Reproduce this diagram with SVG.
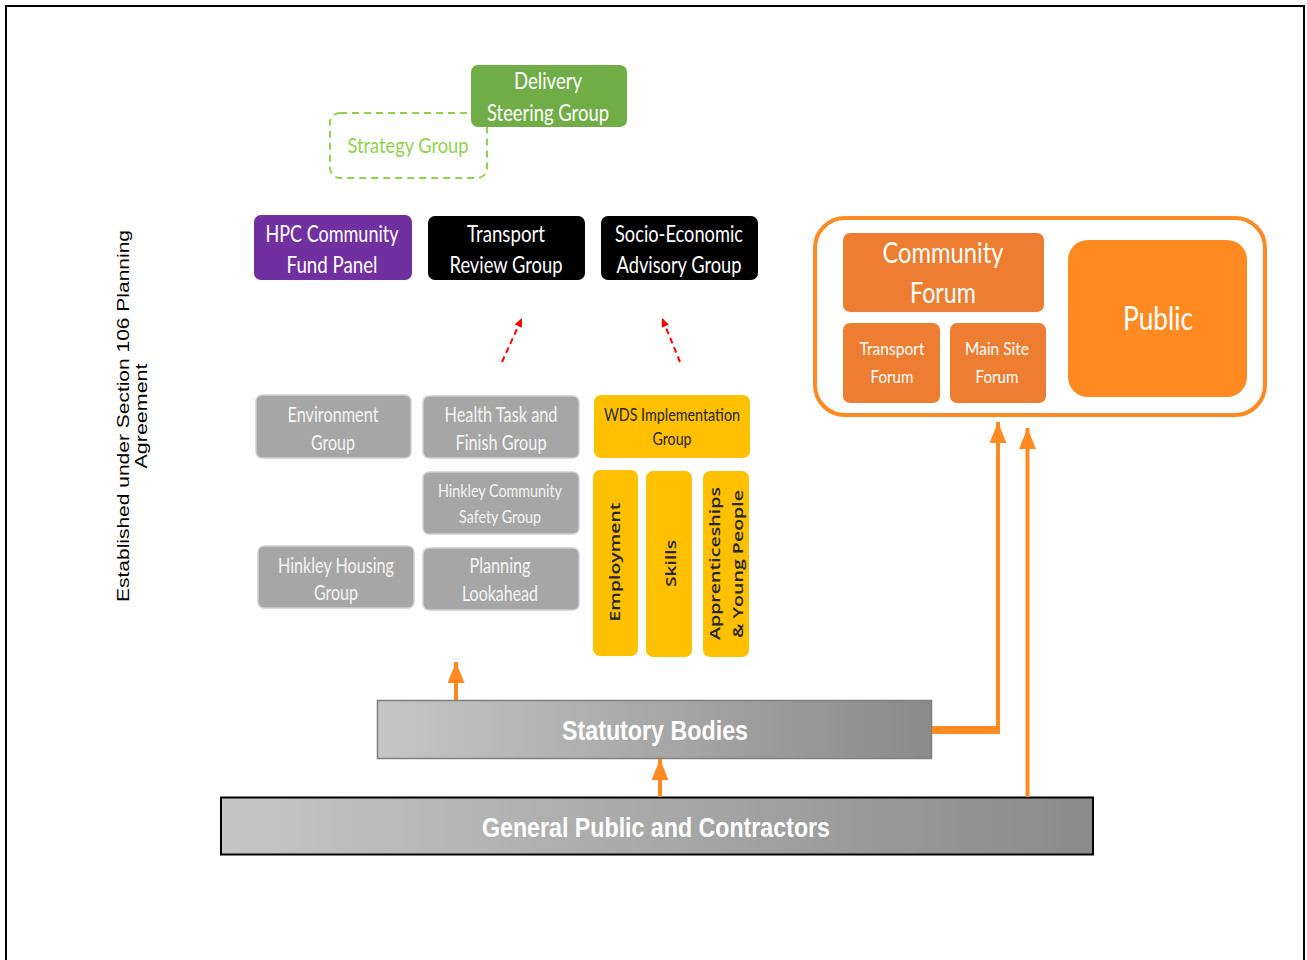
<svg xmlns="http://www.w3.org/2000/svg" width="1307" height="960" viewBox="0 0 1307 960">
<style>
.cal{font-family:Lato,"Open Sans","Noto Sans",sans-serif;text-anchor:middle}
.ari{font-family:"Liberation Sans",Arial,sans-serif;text-anchor:middle}
.dv{font-family:"Open Sans","DejaVu Sans","Liberation Sans",sans-serif;font-weight:600;fill:#262626;text-anchor:middle}
.wt{fill:#ffffff}
.gt{fill:#F4F4F4}
.gray{fill:#A6A6A6;stroke:#D0D0D0;stroke-width:1.5}
.blk{fill:#000000}
.yel{fill:#FFC000}
.of{fill:#ED7D31}
.oa{stroke:#FF8A22;fill:none}
</style>
<defs>
<linearGradient id="gr" x1="0" y1="0" x2="1" y2="0">
<stop offset="0" stop-color="#C6C6C6"/>
<stop offset="1" stop-color="#8A8A8A"/>
</linearGradient>
<marker id="oh" viewBox="0 0 21 17" refX="21" refY="8.5" markerWidth="21" markerHeight="17" markerUnits="userSpaceOnUse" orient="auto">
<path d="M0,0 L21,8.5 L0,17 z" fill="#FF8A22"/>
</marker>
<marker id="rh" viewBox="0 0 9 8" refX="9" refY="4" markerWidth="9" markerHeight="8" markerUnits="userSpaceOnUse" orient="auto">
<path d="M0,0 L9,4 L0,8 z" fill="#FF0000"/>
</marker>
</defs>
<rect x="0" y="0" width="1307" height="960" fill="#ffffff"/>
<path d="M6,968 L6,6 L1304,6 L1304,968" fill="none" stroke="#000" stroke-width="2"/>

<g id="note">
<text class="ari" font-size="17" fill="#000" transform="translate(129,416) rotate(-90)" textLength="372" lengthAdjust="spacingAndGlyphs">Established under Section 106 Planning</text>
<text class="ari" font-size="17" fill="#000" transform="translate(147,416) rotate(-90)" textLength="105" lengthAdjust="spacingAndGlyphs">Agreement</text>
</g>

<g id="strategy">
<rect x="330" y="113" width="157" height="65" rx="10" fill="none" stroke="#92D050" stroke-width="2" stroke-dasharray="7,5"/>
<text class="cal" x="408" y="153" font-size="22" fill="#92D050" textLength="121" lengthAdjust="spacingAndGlyphs">Strategy Group</text>
</g>
<g id="delivery">
<rect x="471" y="65" width="156" height="62" rx="7" fill="#70AD47"/>
<text class="cal wt" x="548" y="89" font-size="23" textLength="68" lengthAdjust="spacingAndGlyphs">Delivery</text>
<text class="cal wt" x="548" y="121" font-size="23" textLength="122" lengthAdjust="spacingAndGlyphs">Steering Group</text>
</g>

<g id="hpc">
<rect x="254" y="215" width="158" height="65" rx="7" fill="#7030A0"/>
<text class="cal wt" x="332" y="242" font-size="23" textLength="133" lengthAdjust="spacingAndGlyphs">HPC Community</text>
<text class="cal wt" x="332" y="273" font-size="23" textLength="91" lengthAdjust="spacingAndGlyphs">Fund Panel</text>
</g>
<g id="transport-review">
<rect x="428" y="216" width="157" height="64" rx="7" class="blk"/>
<text class="cal wt" x="506" y="242" font-size="23" textLength="78" lengthAdjust="spacingAndGlyphs">Transport</text>
<text class="cal wt" x="506" y="273" font-size="23" textLength="113" lengthAdjust="spacingAndGlyphs">Review Group</text>
</g>
<g id="socio">
<rect x="601" y="216" width="157" height="64" rx="7" class="blk"/>
<text class="cal wt" x="679" y="242" font-size="23" textLength="128" lengthAdjust="spacingAndGlyphs">Socio-Economic</text>
<text class="cal wt" x="679" y="273" font-size="23" textLength="125" lengthAdjust="spacingAndGlyphs">Advisory Group</text>
</g>

<g id="environment">
<rect x="256" y="395" width="155" height="63" rx="6" class="gray"/>
<text class="cal gt" x="333" y="422" font-size="22" textLength="91" lengthAdjust="spacingAndGlyphs">Environment</text>
<text class="cal gt" x="333" y="450" font-size="22" textLength="44" lengthAdjust="spacingAndGlyphs">Group</text>
</g>
<g id="health">
<rect x="423" y="396" width="156" height="62" rx="6" class="gray"/>
<text class="cal gt" x="501" y="422" font-size="22" textLength="113" lengthAdjust="spacingAndGlyphs">Health Task and</text>
<text class="cal gt" x="501" y="450" font-size="22" textLength="91" lengthAdjust="spacingAndGlyphs">Finish Group</text>
</g>
<g id="safety">
<rect x="423" y="472" width="156" height="62" rx="6" class="gray"/>
<text class="cal gt" x="500" y="497" font-size="18" textLength="124" lengthAdjust="spacingAndGlyphs">Hinkley Community</text>
<text class="cal gt" x="500" y="523" font-size="18" textLength="82" lengthAdjust="spacingAndGlyphs">Safety Group</text>
</g>
<g id="housing">
<rect x="258" y="546" width="156" height="62" rx="6" class="gray"/>
<text class="cal gt" x="336" y="573" font-size="22" textLength="116" lengthAdjust="spacingAndGlyphs">Hinkley Housing</text>
<text class="cal gt" x="336" y="600" font-size="22" textLength="44" lengthAdjust="spacingAndGlyphs">Group</text>
</g>
<g id="planning">
<rect x="423" y="548" width="156" height="62" rx="6" class="gray"/>
<text class="cal gt" x="500" y="573" font-size="22" textLength="61" lengthAdjust="spacingAndGlyphs">Planning</text>
<text class="cal gt" x="500" y="601" font-size="22" textLength="76" lengthAdjust="spacingAndGlyphs">Lookahead</text>
</g>

<g id="wds">
<rect x="594" y="395" width="156" height="63" rx="7" class="yel"/>
<text class="cal" x="672" y="421" font-size="18" fill="#262626" textLength="136" lengthAdjust="spacingAndGlyphs">WDS Implementation</text>
<text class="cal" x="672" y="445" font-size="18" fill="#262626" textLength="39" lengthAdjust="spacingAndGlyphs">Group</text>
</g>
<g id="employment">
<rect x="593" y="470" width="45" height="186" rx="7" class="yel"/>
<text class="dv" font-size="15" transform="translate(620,562) rotate(-90)" textLength="119" lengthAdjust="spacingAndGlyphs">Employment</text>
</g>
<g id="skills">
<rect x="646" y="471" width="46" height="186" rx="7" class="yel"/>
<text class="dv" font-size="15" transform="translate(676,563.5) rotate(-90)" textLength="47" lengthAdjust="spacingAndGlyphs">Skills</text>
</g>
<g id="apprenticeships">
<rect x="703" y="471" width="46" height="186" rx="7" class="yel"/>
<text class="dv" font-size="15" transform="translate(720,563.5) rotate(-90)" textLength="153" lengthAdjust="spacingAndGlyphs">Apprenticeships</text>
<text class="dv" font-size="15" transform="translate(743,564) rotate(-90)" textLength="148" lengthAdjust="spacingAndGlyphs">&amp; Young People</text>
</g>

<g id="community-container">
<rect x="815" y="218" width="450" height="197" rx="30" fill="#ffffff" stroke="#FF8A22" stroke-width="4"/>
</g>
<g id="community-forum">
<rect x="843" y="233" width="201" height="79" rx="7" class="of"/>
<text class="cal wt" x="943" y="263" font-size="29" textLength="121" lengthAdjust="spacingAndGlyphs">Community</text>
<text class="cal wt" x="943" y="303" font-size="29" textLength="66" lengthAdjust="spacingAndGlyphs">Forum</text>
</g>
<g id="transport-forum">
<rect x="843" y="323" width="97" height="80" rx="7" class="of"/>
<text class="cal wt" x="892" y="355" font-size="18" textLength="65" lengthAdjust="spacingAndGlyphs">Transport</text>
<text class="cal wt" x="892" y="383" font-size="18" textLength="43" lengthAdjust="spacingAndGlyphs">Forum</text>
</g>
<g id="main-site-forum">
<rect x="950" y="323" width="96" height="80" rx="7" class="of"/>
<text class="cal wt" x="997" y="355" font-size="18" textLength="64" lengthAdjust="spacingAndGlyphs">Main Site</text>
<text class="cal wt" x="997" y="383" font-size="18" textLength="43" lengthAdjust="spacingAndGlyphs">Forum</text>
</g>
<g id="public">
<rect x="1068" y="240" width="179" height="157" rx="20" fill="#FF8A22"/>
<text class="cal wt" x="1158" y="330" font-size="32" textLength="70" lengthAdjust="spacingAndGlyphs">Public</text>
</g>

<g id="statutory">
<rect x="377.5" y="700.5" width="554" height="58" fill="url(#gr)" stroke="#7F7F7F" stroke-width="1.5"/>
<text class="ari wt" x="655" y="740" font-size="28" font-weight="bold" textLength="186" lengthAdjust="spacingAndGlyphs">Statutory Bodies</text>
</g>
<g id="general">
<rect x="221" y="797.5" width="872" height="57" fill="url(#gr)" stroke="#000" stroke-width="2"/>
<text class="ari wt" x="656" y="837" font-size="28" font-weight="bold" textLength="348" lengthAdjust="spacingAndGlyphs">General Public and Contractors</text>
</g>

<g id="connectors">
<line x1="456" y1="700" x2="456" y2="662" class="oa" stroke-width="4" marker-end="url(#oh)"/>
<line x1="660" y1="797" x2="660" y2="759" class="oa" stroke-width="4" marker-end="url(#oh)"/>
<line x1="932" y1="730" x2="1000" y2="730" class="oa" stroke-width="8"/>
<line x1="998" y1="734" x2="998" y2="422" class="oa" stroke-width="4" marker-end="url(#oh)"/>
<line x1="1027.5" y1="797" x2="1027.5" y2="428" class="oa" stroke-width="4" marker-end="url(#oh)"/>
<line x1="502" y1="362" x2="522" y2="318" stroke="#FF0000" stroke-width="2" stroke-dasharray="6,4" marker-end="url(#rh)"/>
<line x1="680" y1="362" x2="662" y2="318" stroke="#FF0000" stroke-width="2" stroke-dasharray="6,4" marker-end="url(#rh)"/>
</g>
</svg>
